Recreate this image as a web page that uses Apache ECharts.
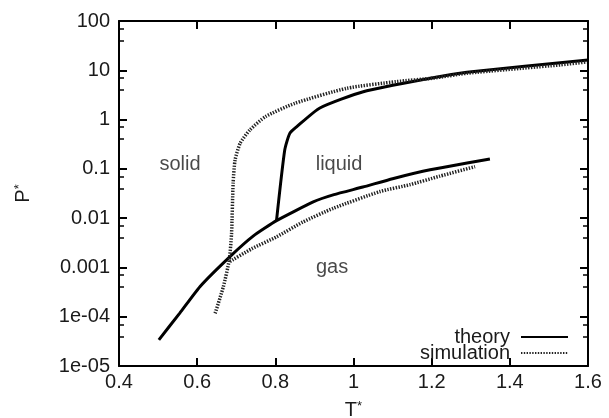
<!DOCTYPE html>
<html>
<head>
<meta charset="utf-8">
<script src="https://cdn.jsdelivr.net/npm/echarts@6/dist/echarts.min.js"></script>
<style>
  html, body { margin: 0; padding: 0; background: #fff; }
  #chart { width: 609px; height: 418px; }
</style>
</head>
<body>
<div id="chart"></div>
<script>
// theory: gas branch (sublimation + vaporisation)
const theoryGasT = [0.502, 0.556, 0.607, 0.684, 0.744, 0.803, 0.897, 0.95, 1.024, 1.1, 1.196, 1.349];
const theoryGasP = [3.4e-5, 1.2e-4, 4.07e-4, 1.66e-3, 4.37e-3, 8.9e-3, 0.0214, 0.030, 0.0427, 0.063, 0.0955, 0.158];
// theory: melting line
const theoryMeltT = [0.803, 0.824, 0.837, 0.855, 0.914, 1.025, 1.196, 1.29, 1.6];
const theoryMeltP = [8.9e-3, 0.24, 0.525, 0.718, 1.72, 3.68, 6.89, 9.12, 16.2];
// simulation: melting / sublimation line
const simMeltT = [0.646, 0.667, 0.682, 0.688, 0.692, 0.697, 0.71, 0.735, 0.775, 0.85, 0.983, 1.11, 1.204, 1.29, 1.53, 1.597];
const simMeltP = [1.17e-4, 4.07e-4, 1.41e-3, 4.9e-3, 0.0513, 0.151, 0.331, 0.617, 1.15, 2.14, 4.32, 5.89, 6.92, 8.71, 12.9, 14.8];
// simulation: vaporisation line
const simGasT = [0.684, 0.74, 0.803, 0.87, 0.948, 1.068, 1.145, 1.22, 1.311];
const simGasP = [1.32e-3, 2.4e-3, 4.17e-3, 8.3e-3, 0.0158, 0.0347, 0.0479, 0.0708, 0.111];

const regionNames = ['solid', 'liquid', 'gas'];
const regionT = [0.556, 0.963, 0.945];
const regionP = [0.12, 0.12, 0.00098];

const yTickLabels = {'-5': '1e-05', '-4': '1e-04', '-3': '0.001', '-2': '0.01', '-1': '0.1', '0': '1', '1': '10', '2': '100'};

function pairs(xs, ys) {
  return xs.map((x, i) => [x, ys[i]]);
}

const chart = echarts.init(document.getElementById('chart'));
const font = 'Liberation Sans';
const ink = '#1a1a1a';

const theoryStyle = { color: '#000', width: 3 };
const simStyle = { color: '#222', width: 3.5, type: [1.4, 1.4] };

function xAxisAt(pos, extra) {
  return Object.assign({
    type: 'value', min: 0.4, max: 1.6, interval: 0.2, position: pos,
    axisLine: { show: true, lineStyle: { color: '#000', width: 2 } },
    axisTick: { show: true, inside: true, length: 8, lineStyle: { color: '#000', width: 2 } },
    splitLine: { show: false }
  }, extra);
}
function yAxisAt(pos, extra) {
  return Object.assign({
    type: 'log', logBase: 10, min: 1e-5, max: 100, position: pos,
    axisLine: { show: true, lineStyle: { color: '#000', width: 2 } },
    axisTick: { show: true, inside: true, length: 8, lineStyle: { color: '#000', width: 2 } },
    minorTick: { show: true, splitNumber: 3, length: 5, lineStyle: { color: '#000', width: 1.5 } },
    splitLine: { show: false }, minorSplitLine: { show: false }
  }, extra);
}

const option = {
  animation: false,
  textStyle: { fontFamily: font },
  grid: { left: 119, right: 21, top: 21, bottom: 52, containLabel: false, outerBoundsMode: 'none' },
  xAxis: [
    xAxisAt('bottom', {
      axisLabel: { color: ink, fontSize: 20, fontFamily: font, margin: 6,
        formatter: v => String(Math.round(v * 10) / 10) },
      name: 'T{sup|*}', nameLocation: 'middle', nameGap: 34,
      nameTextStyle: { color: ink, fontSize: 20, fontFamily: font,
        rich: { sup: { fontSize: 13, verticalAlign: 'top', padding: [0, 0, 6, 0] } } }
    }),
    xAxisAt('top', { axisLabel: { show: false } })
  ],
  yAxis: [
    yAxisAt('left', {
      axisLabel: { color: ink, fontSize: 20, fontFamily: font, margin: 9,
        formatter: v => yTickLabels[String(Math.round(Math.log10(v)))] || '' },
      name: 'P{sup|*}', nameLocation: 'middle', nameGap: 86, nameRotate: 90,
      nameTextStyle: { color: ink, fontSize: 20, fontFamily: font,
        rich: { sup: { fontSize: 13, verticalAlign: 'top', padding: [0, 0, 6, 0] } } }
    }),
    yAxisAt('right', { axisLabel: { show: false } })
  ],
  legend: {
    data: ['theory', 'simulation'],
    orient: 'vertical', align: 'right',
    right: 35, bottom: 50,
    itemWidth: 47, itemHeight: 12, itemGap: -4,
    itemStyle: { opacity: 0 },
    textStyle: { color: ink, fontSize: 20, fontFamily: font, padding: [0, 6, 0, 0] }
  },
  series: [
    { name: 'theory', type: 'line', showSymbol: false, symbol: 'none', smooth: 0.15,
      lineStyle: theoryStyle, itemStyle: { color: '#000' },
      data: pairs(theoryGasT, theoryGasP) },
    { name: 'theory', type: 'line', showSymbol: false, symbol: 'none', smooth: 0.2,
      lineStyle: theoryStyle, itemStyle: { color: '#000' },
      data: pairs(theoryMeltT, theoryMeltP) },
    { name: 'simulation', type: 'line', showSymbol: false, symbol: 'none', smooth: 0.2,
      lineStyle: simStyle, itemStyle: { color: '#222' },
      data: pairs(simMeltT, simMeltP) },
    { name: 'simulation', type: 'line', showSymbol: false, symbol: 'none', smooth: 0.2,
      lineStyle: simStyle, itemStyle: { color: '#222' },
      data: pairs(simGasT, simGasP) },
    { name: 'regions', type: 'scatter', symbolSize: 0, silent: true,
      label: { show: true, position: 'inside', color: ink, fontSize: 20, fontFamily: font,
        formatter: p => regionNames[p.dataIndex] },
      data: pairs(regionT, regionP) }
  ]
};
chart.setOption(option);
</script>
</body>
</html>
